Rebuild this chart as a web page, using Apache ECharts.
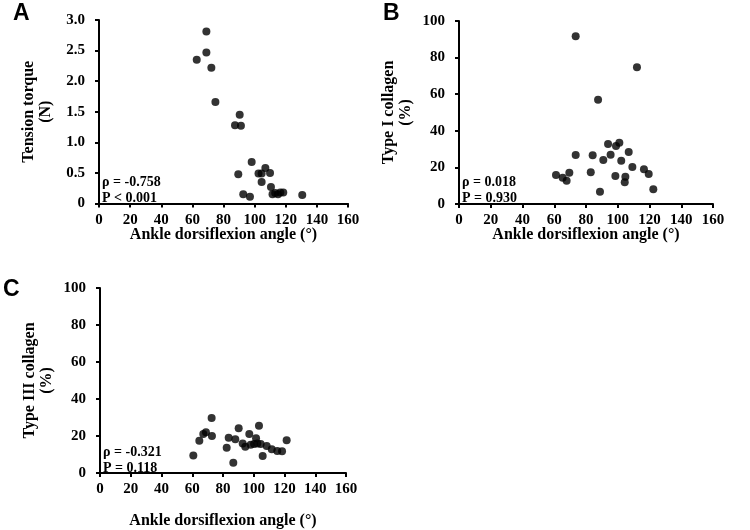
<!DOCTYPE html>
<html>
<head>
<meta charset="utf-8">
<script src="https://cdn.jsdelivr.net/npm/echarts@6/dist/echarts.min.js"></script>
<style>
  html, body { margin: 0; padding: 0; background: #fff; }
  #chart { width: 750px; height: 530px; }
</style>
</head>
<body>
<div id="chart"></div>
<script>
// panel A: ankle angle vs tension torque
const angleA = [62.8, 69, 69, 72.2, 74.8, 90.4, 87.4, 91.2, 98.1, 89.5, 102.5, 104.5, 106.9, 109.9, 104.5, 110.5, 92.7, 97, 111.5, 113.2, 115, 116.5, 118.4, 130.6];
const torque = [2.35, 2.81, 2.47, 2.22, 1.66, 1.45, 1.28, 1.27, 0.68, 0.48, 0.49, 0.49, 0.58, 0.5, 0.35, 0.27, 0.15, 0.11, 0.15, 0.17, 0.15, 0.18, 0.18, 0.14];

// panel B: type I collagen
const angleB = [73.5, 112.1, 87.6, 61.1, 65.3, 67.8, 69.5, 73.5, 83, 84.2, 88.8, 90.9, 93.9, 95.5, 98.5, 98.9, 101, 102.2, 104.8, 104.4, 106.9, 109.2, 116.5, 119.5, 122.4];
const collagen1 = [91.6, 74.7, 57, 15.8, 14.4, 12.7, 17.1, 26.8, 17.3, 26.6, 6.7, 24, 32.8, 26.9, 15.3, 31.7, 33.5, 23.7, 14.9, 11.9, 28.4, 20.2, 19, 16.4, 8];

// panel C: type III collagen
const angleC = [60.7, 64.6, 67.2, 68.9, 72.6, 72.8, 82.4, 83.7, 86.7, 88, 90.2, 92.8, 94.5, 97.1, 98, 100.2, 101.5, 102.3, 103.4, 104.5, 105.8, 108.4, 111.7, 115.3, 118.4, 121.4];
const collagen3 = [9.5, 17.5, 21.1, 22, 29.7, 20, 13.7, 19.1, 5.6, 18.2, 24.2, 16, 14.2, 21.1, 15.3, 15.7, 18.8, 16, 25.6, 15.7, 9.2, 14.6, 12.8, 11.9, 11.7, 17.7];

const xTicks = [0, 20, 40, 60, 80, 100, 120, 140, 160];
const stats = [
  ['ρ = -0.758', 'P < 0.001'],
  ['ρ = 0.018', 'P = 0.930'],
  ['ρ = -0.321', 'P = 0.118']
];

const serif = '"Liberation Serif", "Times New Roman", serif';
const sans = '"Liberation Sans", Arial, sans-serif';

function zip(xs, ys) {
  return xs.map((x, i) => [x, ys[i]]);
}

const grids = [
  {left: 99, top: 20, width: 249, height: 183.5},
  {left: 459, top: 21, width: 254, height: 183},
  {left: 100, top: 288, width: 246, height: 185}
];

function xAxis(i, gap) {
  return {
    gridIndex: i,
    type: 'value',
    min: xTicks[0],
    max: xTicks[xTicks.length - 1],
    interval: 20,
    name: 'Ankle dorsiflexion angle (°)',
    nameLocation: 'middle',
    nameGap: gap,
    nameMoveOverlap: false,
    nameTextStyle: {fontFamily: serif, fontWeight: 'bold', fontSize: 16, color: '#000'},
    axisLine: {lineStyle: {color: '#000', width: 2}},
    axisTick: {show: true, inside: false, length: 4, lineStyle: {color: '#000', width: 2}},
    axisLabel: {fontFamily: serif, fontWeight: 'bold', fontSize: 15, color: '#000', margin: 9},
    splitLine: {show: false}
  };
}

function yAxis(i, name, max, interval, fmt) {
  return {
    gridIndex: i,
    type: 'value',
    min: 0,
    max: max,
    interval: interval,
    name: name,
    nameLocation: 'middle',
    nameRotate: 90,
    nameGap: 45,
    nameTextStyle: {fontFamily: serif, fontWeight: 'bold', fontSize: 16, color: '#000', lineHeight: 17},
    axisLine: {show: true, lineStyle: {color: '#000', width: 2}},
    axisTick: {show: true, inside: false, length: 4, lineStyle: {color: '#000', width: 2}},
    axisLabel: {fontFamily: serif, fontWeight: 'bold', fontSize: 15, color: '#000', margin: 14, formatter: fmt},
    splitLine: {show: false}
  };
}

function scatter(i, data) {
  return {
    type: 'scatter',
    xAxisIndex: i,
    yAxisIndex: i,
    data: data,
    symbolSize: 8,
    itemStyle: {color: '#000'}
  };
}

function statText(left, top, lines) {
  return {
    type: 'text',
    left: left,
    top: top,
    z: 1,
    style: {
      text: lines.join('\n'),
      font: 'bold 14px ' + serif,
      lineHeight: 16,
      fill: '#000'
    }
  };
}

function panelLetter(left, top, txt) {
  return {
    type: 'text',
    left: left,
    top: top,
    style: {text: txt, font: 'bold 23px ' + sans, fill: '#000'}
  };
}

const chart = echarts.init(document.getElementById('chart'));
chart.setOption({
  animation: false,
  grid: grids,
  xAxis: [xAxis(0, 23), xAxis(1, 23), xAxis(2, 40)],
  yAxis: [
    yAxis(0, 'Tension torque\n(N)', 3, 0.5, v => v === 0 ? '0' : v.toFixed(1)),
    yAxis(1, 'Type I collagen\n(%)', 100, 20),
    yAxis(2, 'Type III collagen\n(%)', 100, 20)
  ],
  series: [
    scatter(0, zip(angleA, torque)),
    scatter(1, zip(angleB, collagen1)),
    scatter(2, zip(angleC, collagen3))
  ],
  graphic: [
    panelLetter(13, 2, 'A'),
    panelLetter(383, 2, 'B'),
    panelLetter(3, 278, 'C'),
    statText(102, 174, stats[0]),
    statText(462, 174, stats[1]),
    statText(103, 444, stats[2])
  ]
});
</script>
</body>
</html>
